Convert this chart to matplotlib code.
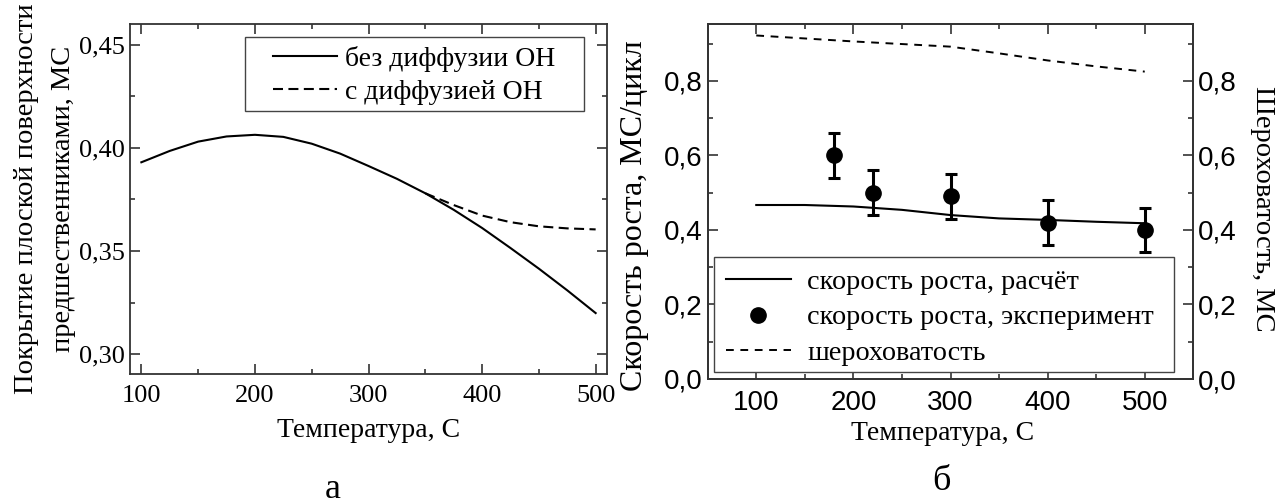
import matplotlib
matplotlib.use("Agg")
from matplotlib import pyplot as plt
from matplotlib.ticker import MultipleLocator, FuncFormatter
from matplotlib.patches import Rectangle

# panel a: coverage of flat surface by precursors
temp_a = [100, 125, 150, 175, 200, 225, 250, 275, 300, 325, 350, 375, 400, 425, 450, 475, 500]
cov_no_diff = [0.393, 0.3985, 0.4030, 0.4055, 0.4063, 0.4053, 0.4020, 0.3972, 0.3912,
               0.3850, 0.3780, 0.3700, 0.3612, 0.3515, 0.3415, 0.3310, 0.3200]
temp_a_diff = [350, 375, 400, 425, 450, 475, 500]
cov_diff = [0.3780, 0.3723, 0.3672, 0.3640, 0.3620, 0.3610, 0.3605]

# panel b: growth rate and roughness
temp_b = [100, 150, 200, 250, 300, 350, 400, 450, 500]
rate_calc = [0.467, 0.467, 0.463, 0.454, 0.440, 0.431, 0.427, 0.422, 0.418]
roughness = [0.922, 0.914, 0.906, 0.899, 0.892, 0.874, 0.855, 0.839, 0.825]
temp_exp = [180, 220, 300, 400, 500]
rate_exp = [0.60, 0.50, 0.49, 0.42, 0.40]
rate_err = [0.06, 0.06, 0.06, 0.06, 0.06]

SERIF = "Liberation Serif"
SANS = "Liberation Sans"
FS_TICK = 19
FS_LAB = 20
FS_LEG = 20
SPINE = "#333333"
FRAME = "#444444"

plt.rcParams["font.family"] = SERIF

fig = plt.figure(figsize=(12.83, 5.04), dpi=100)


def comma(fmt):
    return FuncFormatter(lambda v, p: fmt.format(v).replace(".", ","))


def style_axes(ax):
    for s in ax.spines.values():
        s.set_linewidth(1.3)
        s.set_color(SPINE)
    ax.tick_params(which="both", direction="in", color=SPINE, width=1.2)
    ax.tick_params(which="major", length=7)
    ax.tick_params(which="minor", length=3.5)


# ---------------- panel a ----------------
ax1 = fig.add_axes([130 / 1283, 1 - 374 / 504, 477 / 1283, 349.7 / 504])
ax1.plot(temp_a, cov_no_diff, color="black", lw=1.5, label="без диффузии ОН")
ax1.plot(temp_a_diff, cov_diff, color="black", lw=1.5, dashes=(4.8, 2.6),
         label="с диффузией ОН")
ax1.set_xlim(90, 510)
ax1.set_ylim(0.2905, 0.4598)
ax1.xaxis.set_major_locator(MultipleLocator(100))
ax1.xaxis.set_minor_locator(MultipleLocator(50))
ax1.yaxis.set_major_locator(MultipleLocator(0.05))
ax1.yaxis.set_minor_locator(MultipleLocator(0.025))
ax1.yaxis.set_major_formatter(comma("{:.2f}"))
style_axes(ax1)
ax1.tick_params(which="both", top=True, right=True, labelsize=FS_TICK)
ax1.tick_params(axis="x", pad=8)
ax1.set_xlabel("Температура, С", fontsize=FS_LAB)
ax1.xaxis.set_label_coords(0.5, -0.127)
ax1.set_ylabel("Покрытие плоской поверхности\nпредшественниками, МС",
               fontsize=20.5, va="center", linespacing=1.62)
ax1.yaxis.set_label_coords(-0.178, 0.5)
ax1.legend(loc="upper left", bbox_to_anchor=(0.2998, 0.939), borderaxespad=0,
           borderpad=0, fontsize=FS_LEG, frameon=False, handlelength=2.3,
           handletextpad=0.3, labelspacing=0.29)
ax1.add_patch(Rectangle((0.241, 0.752), 0.711, 0.2125, transform=ax1.transAxes,
                        fill=False, ec=FRAME, lw=1.0, zorder=4))

# ---------------- panel b ----------------
ax2 = fig.add_axes([707.7 / 1283, 1 - 379 / 504, 485.6 / 1283, 354.7 / 504])
ax3 = ax2.twinx()
l_calc, = ax2.plot(temp_b, rate_calc, color="black", lw=1.5, label="скорость роста, расчёт")
ax2.errorbar(temp_exp, rate_exp, yerr=rate_err, fmt="none", ecolor="black",
             elinewidth=2.2, capsize=4, capthick=2.2)
l_exp, = ax2.plot(temp_exp, rate_exp, "o", color="black", ms=11,
                  label="скорость роста, эксперимент")
l_rough, = ax3.plot(temp_b, roughness, color="black", lw=1.4, dashes=(4, 3.4),
                    label="шероховатость")
for ax in (ax2, ax3):
    ax.set_xlim(50, 550)
    ax.set_ylim(0, 0.952)
    ax.yaxis.set_major_locator(MultipleLocator(0.2))
    ax.yaxis.set_minor_locator(MultipleLocator(0.1))
    ax.yaxis.set_major_formatter(comma("{:.1f}"))
    style_axes(ax)
ax2.xaxis.set_major_locator(MultipleLocator(100))
ax2.xaxis.set_minor_locator(MultipleLocator(50))
ax2.tick_params(which="both", top=True, right=False, labelsize=20)
ax2.tick_params(axis="x", pad=8)
ax3.tick_params(which="both", labelsize=20)
for lab in ax2.get_xticklabels() + ax2.get_yticklabels() + ax3.get_yticklabels():
    lab.set_fontfamily(SANS)
ax2.set_xlabel("Температура, С", fontsize=FS_LAB)
ax2.xaxis.set_label_coords(0.483, -0.118)
ax2.set_ylabel("Скорость роста, МС/цикл", fontsize=23, va="center")
ax2.yaxis.set_label_coords(-0.15, 0.46)
ax3.set_ylabel("Шероховатость, МС", fontsize=20.5, rotation=270, va="center")
ax3.yaxis.set_label_coords(1.1415, 0.479)
ax2.add_patch(Rectangle((0.0126, 0.019), 0.947, 0.326, transform=ax2.transAxes,
                        fc="white", ec=FRAME, lw=1.0, zorder=4))
leg2 = ax2.legend(handles=[l_calc, l_exp, l_rough], loc="upper left",
                  bbox_to_anchor=(0.0377, 0.310), borderaxespad=0, borderpad=0,
                  fontsize=20.3, frameon=False, handlelength=2.3,
                  handletextpad=0.58, labelspacing=0.35)
leg2.set_zorder(5)
ax3.set_zorder(ax2.get_zorder() - 1)
ax2.patch.set_visible(False)

# panel captions
fig.text(333 / 1283, 1 - 489 / 504, "а", fontsize=26, ha="center", va="center")
fig.text(941 / 1283, 1 - 482 / 504, "б", fontsize=26, ha="center", va="center")

fig.savefig("out.png", dpi=100)
